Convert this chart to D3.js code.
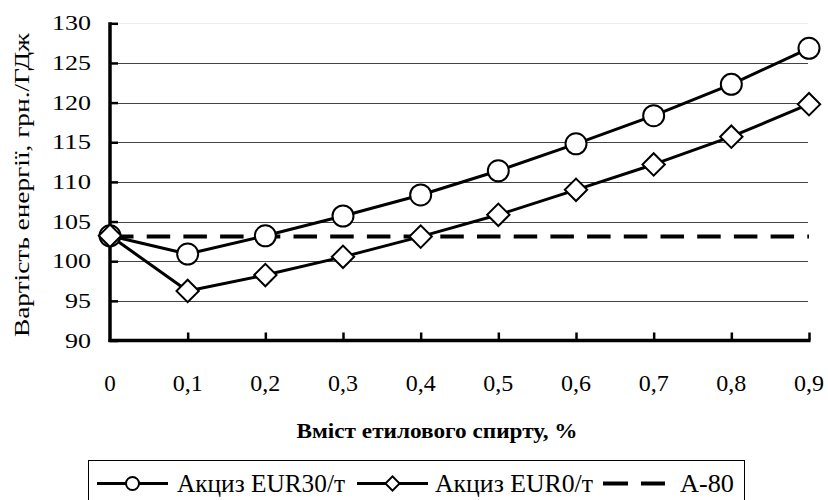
<!DOCTYPE html>
<html>
<head>
<meta charset="utf-8">
<script src="https://cdn.jsdelivr.net/npm/d3@7"></script>
<style>
  html, body { margin: 0; padding: 0; background: #fff; }
  svg { display: block; }
</style>
</head>
<body>
<svg id="chart" width="828" height="500"></svg>
<script>
// ---- data ----
const xValues = [0, 0.1, 0.2, 0.3, 0.4, 0.5, 0.6, 0.7, 0.8, 0.9];
const xTickLabels = ["0", "0,1", "0,2", "0,3", "0,4", "0,5", "0,6", "0,7", "0,8", "0,9"];
const yTicks = [90, 95, 100, 105, 110, 115, 120, 125, 130];
const seriesEUR30 = [103.2, 100.9, 103.2, 105.7, 108.35, 111.4, 114.8, 118.35, 122.3, 126.85];
const seriesEUR0 = [103.2, 96.25, 98.25, 100.55, 103.1, 105.85, 109.0, 112.2, 115.7, 119.8];
const seriesA80 = [103.1, 103.1, 103.1, 103.1, 103.1, 103.1, 103.1, 103.1, 103.1, 103.1];
const seriesNames = ["Акциз EUR30/т", "Акциз EUR0/т", "А-80"];
const xTitle = "Вміст етилового спирту, %";
const yTitle = "Вартість енергії, грн./ГДж";

// ---- pick an installed font (serif preferred) ----
function pickFont(cands) {
  const ctx = document.createElement("canvas").getContext("2d");
  const s = "Вартість ABCmwil 0123456789";
  const base = {};
  ["monospace", "sans-serif"].forEach(b => { ctx.font = "40px " + b; base[b] = ctx.measureText(s).width; });
  for (const c of cands) {
    let ok = false;
    for (const b of ["monospace", "sans-serif"]) {
      ctx.font = `40px "${c}", ${b}`;
      if (Math.abs(ctx.measureText(s).width - base[b]) > 0.5) ok = true;
    }
    if (ok) return `"${c}", serif`;
  }
  return "serif";
}
const FONT = pickFont(["Liberation Serif", "Tinos", "Times New Roman", "DejaVu Serif", "Noto Serif",
  "FreeSerif", "Liberation Sans", "Arimo", "Noto Sans"]);

// ---- layout ----
const svg = d3.select("#chart").attr("font-family", FONT);
const pLeft = 110, pRight = 809, pTop = 23.3, pBottom = 340.5;
const x = d3.scaleLinear().domain([0, 0.9]).range([pLeft, pRight]);
const y = d3.scaleLinear().domain([90, 130]).range([pBottom, pTop]);

function fit(sel, w) {
  sel.attr("textLength", w).attr("lengthAdjust", "spacingAndGlyphs");
}

// gridlines
svg.append("g").selectAll("line")
  .data(yTicks.filter(v => v > 90))
  .join("line")
  .attr("x1", pLeft).attr("x2", pRight - 1)
  .attr("y1", d => Math.round(y(d)) + 0.5).attr("y2", d => Math.round(y(d)) + 0.5)
  .attr("stroke", d => d === 130 ? "#eeeeee" : "#444")
  .attr("stroke-width", 1);

// A-80 dashed line
const line = d3.line().x((d, i) => x(xValues[i])).y(d => y(d));
svg.append("path")
  .datum(seriesA80)
  .attr("d", line)
  .attr("fill", "none")
  .attr("stroke", "#000")
  .attr("stroke-width", 4)
  .attr("stroke-dasharray", "23.5,13.2");

// series lines
[seriesEUR30, seriesEUR0].forEach(s => {
  svg.append("path")
    .datum(s)
    .attr("d", line)
    .attr("fill", "none")
    .attr("stroke", "#000")
    .attr("stroke-width", 3)
    .attr("stroke-linejoin", "round");
});

// axes
const yAxis = d3.axisRight(y).tickValues(yTicks).tickSize(8).tickFormat("");
const gy = svg.append("g").attr("transform", `translate(${pLeft},0)`).call(yAxis);
gy.select(".domain").remove();
gy.selectAll(".tick line").attr("stroke", "#000").attr("stroke-width", 2.5);
svg.append("line").attr("x1", pLeft).attr("x2", pLeft).attr("y1", pTop - 1).attr("y2", pBottom + 1.5)
  .attr("stroke", "#000").attr("stroke-width", 3.5);

const xAxis = d3.axisTop(x).tickValues(xValues.slice(1)).tickSize(8).tickFormat("");
const gx = svg.append("g").attr("transform", `translate(0,${pBottom})`).call(xAxis);
gx.select(".domain").remove();
gx.selectAll(".tick line").attr("stroke", "#000").attr("stroke-width", 2.5);
svg.append("line").attr("x1", pLeft - 1.5).attr("x2", pRight + 1.5).attr("y1", pBottom).attr("y2", pBottom)
  .attr("stroke", "#000").attr("stroke-width", 3.5);

// markers
svg.append("g").selectAll("circle")
  .data(seriesEUR30)
  .join("circle")
  .attr("cx", (d, i) => x(xValues[i])).attr("cy", d => y(d))
  .attr("r", 10.5)
  .attr("fill", "#fff").attr("stroke", "#000").attr("stroke-width", 2);

const diamond = d3.symbol().type(d3.symbolSquare).size(250);
svg.append("g").selectAll("path")
  .data(seriesEUR0)
  .join("path")
  .attr("d", diamond)
  .attr("transform", (d, i) => `translate(${x(xValues[i])},${y(d)}) rotate(45)`)
  .attr("fill", "#fff").attr("stroke", "#000").attr("stroke-width", 2);

// y tick labels
svg.append("g").selectAll("text")
  .data(yTicks)
  .join("text")
  .attr("font-family", FONT)
  .attr("x", 91).attr("y", d => y(d) + 7)
  .attr("text-anchor", "end")
  .attr("font-size", 20)
  .text(d => d)
  .each(function(d) { fit(d3.select(this), String(d).length * 13); });

// x tick labels
svg.append("g").selectAll("text")
  .data(xValues)
  .join("text")
  .attr("font-family", FONT)
  .attr("x", d => x(d)).attr("y", 391)
  .attr("text-anchor", "middle")
  .attr("font-size", 23)
  .text((d, i) => xTickLabels[i])
  .each(function(d, i) { if (i > 0) fit(d3.select(this), 30); });

// axis titles
svg.append("text")
  .attr("font-family", FONT)
  .attr("x", 437).attr("y", 438)
  .attr("text-anchor", "middle")
  .attr("font-size", 22).attr("font-weight", "bold")
  .text(xTitle)
  .call(fit, 281);

svg.append("text")
  .attr("font-family", FONT)
  .attr("transform", "translate(29,185) rotate(-90)")
  .attr("text-anchor", "middle")
  .attr("font-size", 22)
  .text(yTitle)
  .call(fit, 304);

// legend
const lg = svg.append("g");
lg.append("rect").attr("x", 88.5).attr("y", 460.5).attr("width", 656).attr("height", 60)
  .attr("fill", "#fff").attr("stroke", "#000").attr("stroke-width", 1);
const ly = 483.5, lb = 491.5;
// item 1
lg.append("line").attr("x1", 97).attr("x2", 168).attr("y1", ly).attr("y2", ly).attr("stroke", "#000").attr("stroke-width", 3);
lg.append("circle").attr("cx", 132.5).attr("cy", ly).attr("r", 6.5).attr("fill", "#fff").attr("stroke", "#000").attr("stroke-width", 2);
lg.append("text").attr("font-family", FONT).attr("x", 177).attr("y", lb).attr("font-size", 25).text(seriesNames[0]).call(fit, 168);
// item 2
lg.append("line").attr("x1", 357).attr("x2", 428).attr("y1", ly).attr("y2", ly).attr("stroke", "#000").attr("stroke-width", 3);
lg.append("path").attr("d", d3.symbol().type(d3.symbolSquare).size(100))
  .attr("transform", `translate(392.5,${ly}) rotate(45)`)
  .attr("fill", "#fff").attr("stroke", "#000").attr("stroke-width", 2);
lg.append("text").attr("font-family", FONT).attr("x", 435).attr("y", lb).attr("font-size", 25).text(seriesNames[1]).call(fit, 158);
// item 3
lg.append("line").attr("x1", 603).attr("x2", 665).attr("y1", ly).attr("y2", ly).attr("stroke", "#000").attr("stroke-width", 4)
  .attr("stroke-dasharray", "25,13");
lg.append("text").attr("font-family", FONT).attr("x", 680).attr("y", lb).attr("font-size", 25).text(seriesNames[2]).call(fit, 54);
</script>
</body>
</html>
